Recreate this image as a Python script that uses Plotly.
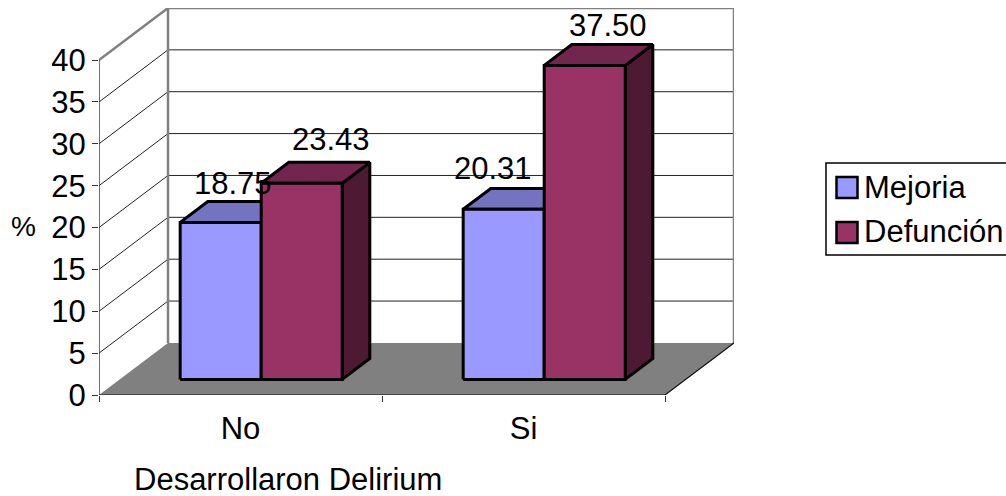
import plotly.graph_objects as go

categories = ["No", "Si"]
series_names = ["Mejoria", "Defunción"]
mejoria = [18.75, 20.31]
defuncion = [23.43, 37.50]
y_ticks = [0, 5, 10, 15, 20, 25, 30, 35, 40]
value_labels = [["18.75", "20.31"], ["23.43", "37.50"]]

# oblique projection of the pseudo-3D box (category units / value units)
DX, DY = 0.2438, 6.22
D_FRONT, D_BACK = 0.3, 0.7
GAP, BAR_W = 0.2137, 0.2863
YMAX = 40
NCAT = len(categories)

FRONT = ["#9999FF", "#993366"]
TOP = ["#7373BF", "#73264D"]
SIDE = ["#4D4D80", "#4D1933"]
GREY = "#808080"
FONT = dict(family="Liberation Sans, Arial, sans-serif", size=31, color="black")

# pixel nudges of value labels, relative to the bar's front-top midpoint
LABEL_SHIFT = [[(12, 39), (-11, 41)], [(29, 44), (23, 40)]]
LEGEND_ROWS = [187, 232]

W, H = 1006, 496
PL, PR, PT, PB = 99, 734, 8, 395


def px(x):
    return (x - PL) / (PR - PL)


def py(y):
    return 1 - (y - PT) / (PB - PT)


def pr(x, v, d):
    return x + d * DX, v + d * DY


def path(points):
    xs, ys = zip(*points)
    return list(xs), list(ys)


fig = go.Figure()


def line(points, color, width):
    xs, ys = path(points)
    fig.add_trace(go.Scatter(x=xs, y=ys, mode="lines", line=dict(color=color, width=width),
                             showlegend=False, hoverinfo="skip", cliponaxis=False))


def poly(points, fill, lw=3):
    xs, ys = path(points + points[:1])
    fig.add_trace(go.Scatter(x=xs, y=ys, mode="lines", fill="toself", fillcolor=fill,
                             line=dict(color="black", width=lw),
                             showlegend=False, hoverinfo="skip", cliponaxis=False))


# floor
xs, ys = path([(0, 0), (NCAT, 0), pr(NCAT, 0, 1), pr(0, 0, 1), (0, 0)])
fig.add_trace(go.Scatter(x=xs, y=ys, mode="lines", fill="toself", fillcolor=GREY,
                         line=dict(color=GREY, width=0), showlegend=False,
                         hoverinfo="skip", cliponaxis=False))

# gridlines on side wall and back wall
for t in y_ticks[1:-1]:
    line([(0, t), pr(0, t, 1), pr(NCAT, t, 1)], "#222222", 1)

# wall frame
line([(0, YMAX), pr(0, YMAX, 1), pr(NCAT, YMAX, 1), pr(NCAT, 0, 1)], GREY, 2.5)
line([pr(0, 0, 1), pr(0, YMAX, 1)], GREY, 2.5)
# axes edges
line([(0, 0), (0, YMAX)], "#404040", 1.5)
line([(0, 0), (NCAT, 0), pr(NCAT, 0, 1)], "#111111", 1.2)

# bars, drawn series by series inside every category
series = [mejoria, defuncion]
for c in range(NCAT):
    for s, vals in enumerate(series):
        x0 = c + GAP + s * BAR_W
        x1 = x0 + BAR_W
        v = vals[c]
        poly([pr(x1, 0, D_FRONT), pr(x1, 0, D_BACK), pr(x1, v, D_BACK), pr(x1, v, D_FRONT)], SIDE[s])
        poly([pr(x0, v, D_FRONT), pr(x1, v, D_FRONT), pr(x1, v, D_BACK), pr(x0, v, D_BACK)], TOP[s])
        poly([pr(x0, 0, D_FRONT), pr(x1, 0, D_FRONT), pr(x1, v, D_FRONT), pr(x0, v, D_FRONT)], FRONT[s])

annotations = []
for s, vals in enumerate(series):
    for c, v in enumerate(vals):
        x, y = pr(c + GAP + (s + 0.5) * BAR_W, v, D_FRONT)
        dx, dy = LABEL_SHIFT[s][c]
        annotations.append(dict(x=x, y=y, text=value_labels[s][c], showarrow=False, font=FONT,
                                xanchor="center", yanchor="middle", xshift=dx, yshift=dy))

annotations.append(dict(xref="paper", yref="paper", x=px(23), y=py(226), text="%",
                        showarrow=False, font=dict(FONT, size=28), xanchor="center", yanchor="middle"))
annotations.append(dict(xref="paper", yref="paper", x=px(288), y=py(479),
                        text="Desarrollaron Delirium", showarrow=False, font=FONT,
                        xanchor="center", yanchor="middle"))

shapes = [dict(type="rect", xref="paper", yref="paper",
               x0=px(826), x1=px(1012), y0=py(255), y1=py(163),
               line=dict(color="black", width=1.5), fillcolor="rgba(0,0,0,0)")]

# legend drawn as real text with swatches, so its box can sit at the page edge
for name, colour, row in zip(series_names, FRONT, LEGEND_ROWS):
    shapes.append(dict(type="rect", xref="paper", yref="paper",
                       x0=px(836.5), x1=px(857.5), y0=py(row + 11), y1=py(row - 10),
                       line=dict(color="black", width=2.5), fillcolor=colour))
    annotations.append(dict(xref="paper", yref="paper", x=px(862), y=py(row), text=name,
                            showarrow=False, font=FONT, xanchor="left", yanchor="middle"))

fig.update_layout(
    width=W, height=H, autosize=False,
    margin=dict(l=PL, r=W - PR, t=PT, b=H - PB, pad=0),
    paper_bgcolor="white", plot_bgcolor="rgba(0,0,0,0)", font=FONT,
    showlegend=False,
    annotations=annotations, shapes=shapes,
    xaxis=dict(range=[0, NCAT + DX], tickmode="array",
               tickvals=[i + 0.5 for i in range(NCAT)], ticktext=categories,
               ticks="", showgrid=False, zeroline=False, showline=False,
               ticklabelstandoff=12, tickfont=FONT,
               minor=dict(tickmode="array", tickvals=list(range(NCAT + 1)), ticks="outside",
                          ticklen=6, tickcolor="#333333", tickwidth=1.2, showgrid=False)),
    yaxis=dict(range=[0, YMAX + DY], tickmode="array", tickvals=y_ticks,
               ticks="outside", ticklen=6, tickcolor="#333333", tickwidth=1.2,
               showgrid=False, zeroline=False, showline=False, tickfont=FONT),
)

fig.write_html("out.html", config={"displayModeBar": False},
               post_script="document.body.style.margin='0';")
